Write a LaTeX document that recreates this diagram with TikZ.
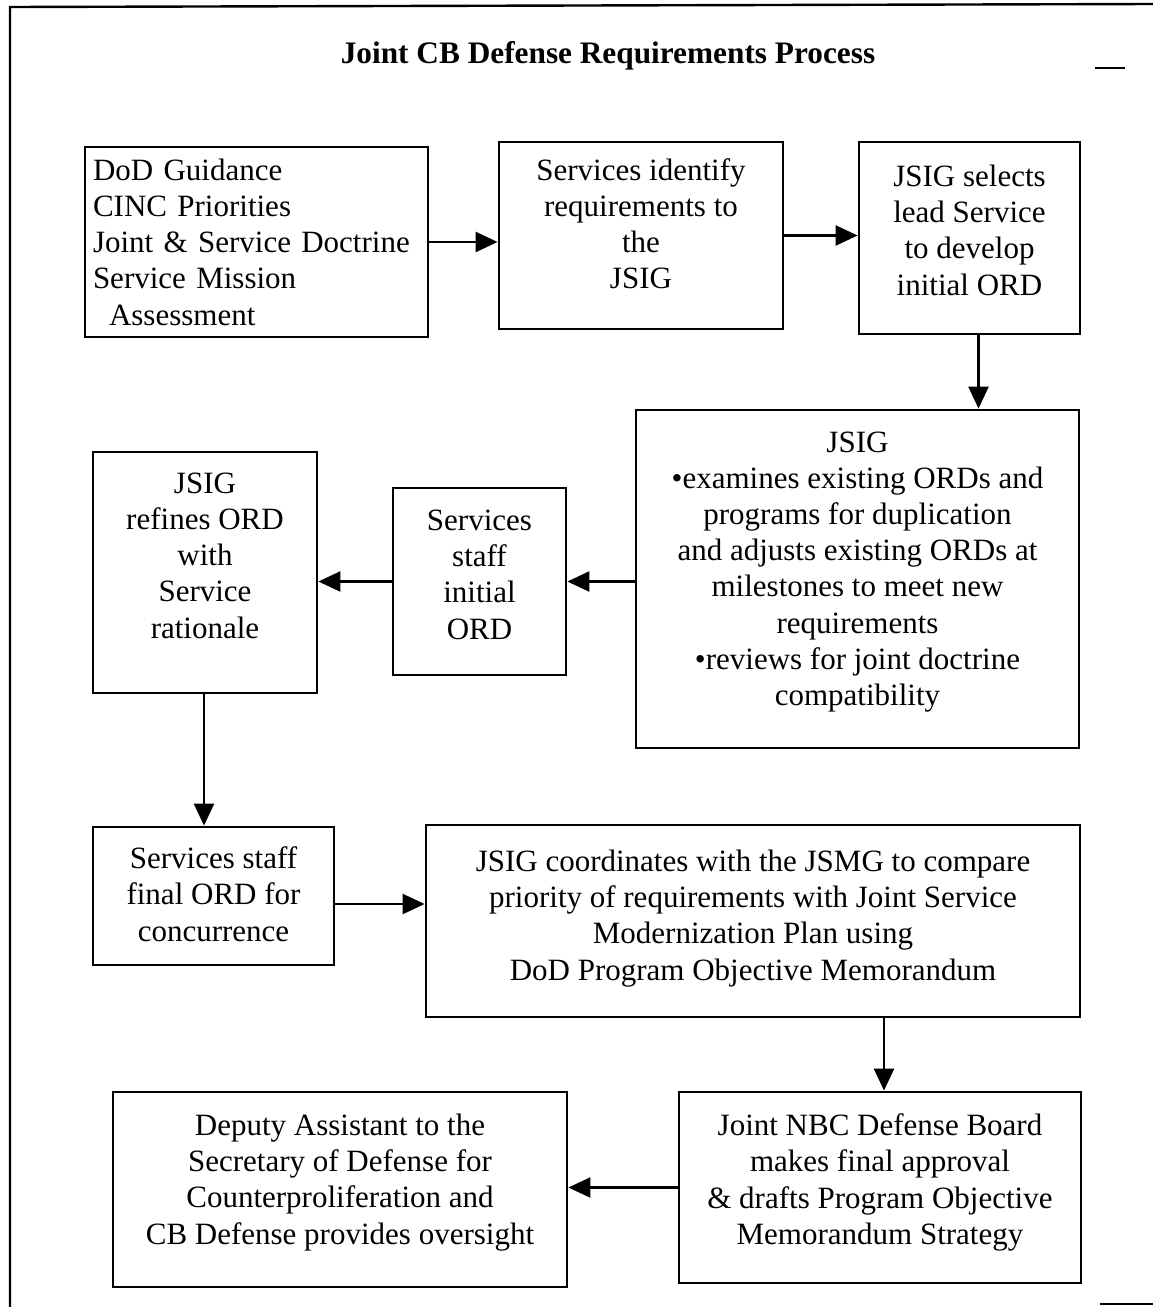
\documentclass[tikz,border=0pt]{standalone}
\usepackage{fontspec}
\setmainfont{Liberation Serif}
\usetikzlibrary{arrows.meta}
\begin{document}
\begin{tikzpicture}[x=1pt,y=-1pt,
  box/.style={draw, line width=2.8pt, align=center, inner sep=0pt,
    font=\fontsize{31}{36.2}\selectfont},
  arr/.style={line width=2.4pt, -{Triangle[length=22pt,width=20pt]}},
  frame/.style={line width=2.4pt}]
\useasboundingbox (0,0) rectangle (1153,1307);
\fill[white] (0,0) rectangle (1153,1307);
% outer frame (open on the right and bottom)
\draw[frame] (10,1307) -- (10,7) -- (1153,4);
\draw[line width=1.5pt] (1095,68) -- (1125,68);
\draw[line width=1.5pt] (1100,1304) -- (1153,1304);
% title
\node[font=\fontsize{31.3}{37}\selectfont\bfseries] (title) at (608,56) {Joint CB Defense Requirements Process};
% boxes
\node[box, align=left, text width=327pt, inner xsep=8pt, minimum height=190pt] (A) at (256.5,242)
  {DoD Guidance\\CINC Priorities\\Joint \& Service Doctrine\\Service Mission\\\hspace*{16pt}Assessment};
\node[box, minimum width=284pt, minimum height=187pt, text depth=24pt] (B) at (641,235.5)
  {Services identify\\requirements to\\the\\JSIG};
\node[box, minimum width=221pt, minimum height=192pt, text depth=16pt] (C) at (969.5,238)
  {JSIG selects\\lead Service\\to develop\\initial ORD};
\node[box, minimum width=443pt, minimum height=338pt, text depth=21pt] (D) at (857.5,579)
  {JSIG\\\textbullet examines existing ORDs and\\programs for duplication\\and adjusts existing ORDs at\\milestones to meet new\\requirements\\\textbullet reviews for joint doctrine\\compatibility};
\node[box, minimum width=173pt, minimum height=187pt, text depth=14pt] (E) at (479.5,581.5)
  {Services\\staff\\initial\\ORD};
\node[box, minimum width=224pt, minimum height=241pt, text depth=34pt] (F) at (205,572.5)
  {JSIG\\refines ORD\\with\\Service\\rationale};
\node[box, minimum width=241pt, minimum height=138pt, text depth=4pt] (G) at (213.5,896)
  {Services staff\\final ORD for\\concurrence};
\node[box, minimum width=654pt, minimum height=192pt, text depth=12pt] (H) at (753,921)
  {JSIG coordinates with the JSMG to compare\\priority of requirements with Joint Service\\Modernization Plan using\\DoD Program Objective Memorandum};
\node[box, minimum width=402pt, minimum height=191pt, text depth=17pt] (I) at (880,1187.5)
  {Joint NBC Defense Board\\makes final approval\\\& drafts Program Objective\\Memorandum Strategy};
\node[box, minimum width=454pt, minimum height=195pt, text depth=21pt] (J) at (340,1189.5)
  {Deputy Assistant to the\\Secretary of Defense for\\Counterproliferation and\\CB Defense provides oversight};
% connectors
\draw[arr] (A.east) -- (A.east -| B.west);
\draw[arr] (B.east) -- (B.east -| C.west);
\draw[arr] ([xshift=9pt]C.south) -- ([xshift=9pt]C.south |- D.north);
\draw[arr] (D.west |- E.east) -- (E.east);
\draw[arr] (E.west) -- (E.west -| F.east);
\draw[arr] ([xshift=-1pt]F.south) -- ([xshift=-1pt]F.south |- G.north);
\draw[arr] ([yshift=-8pt]G.east) -- ([yshift=-8pt]G.east -| H.west);
\draw[arr] ([xshift=4pt]I.north |- H.south) -- ([xshift=4pt]I.north);
\draw[arr] (I.west) -- (I.west -| J.east);
\end{tikzpicture}
\end{document}
